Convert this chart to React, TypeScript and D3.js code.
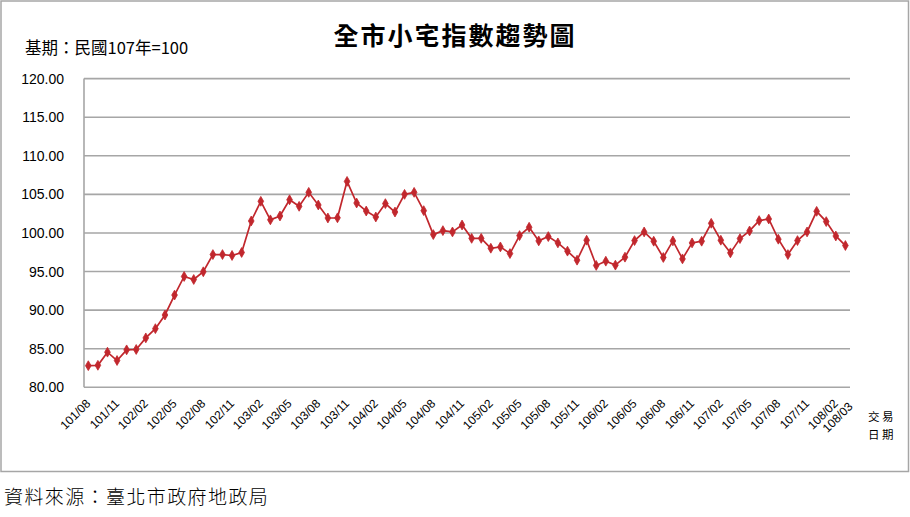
import React from "react";
import * as d3 from "d3";

const months: string[] = [
  "101/08","101/09","101/10","101/11","101/12",
  "102/01","102/02","102/03","102/04","102/05","102/06","102/07","102/08","102/09","102/10","102/11","102/12",
  "103/01","103/02","103/03","103/04","103/05","103/06","103/07","103/08","103/09","103/10","103/11","103/12",
  "104/01","104/02","104/03","104/04","104/05","104/06","104/07","104/08","104/09","104/10","104/11","104/12",
  "105/01","105/02","105/03","105/04","105/05","105/06","105/07","105/08","105/09","105/10","105/11","105/12",
  "106/01","106/02","106/03","106/04","106/05","106/06","106/07","106/08","106/09","106/10","106/11","106/12",
  "107/01","107/02","107/03","107/04","107/05","107/06","107/07","107/08","107/09","107/10","107/11","107/12",
  "108/01","108/02","108/03",
];

const indexValues: number[] = [
  82.8, 82.85, 84.55, 83.47, 84.85,
  84.9, 86.4, 87.6, 89.37, 91.95, 94.36, 93.97, 94.97, 97.2, 97.2, 97.08, 97.47,
  101.55, 104.1, 101.7, 102.2, 104.3, 103.45, 105.26, 103.62, 101.94, 101.96, 106.68, 103.88,
  102.84, 102.07, 103.8, 102.71, 105.0, 105.26, 102.89, 99.79, 100.3, 100.13, 101.03, 99.3,
  99.3, 98.02, 98.19, 97.33, 99.66, 100.74, 98.97, 99.53, 98.71, 97.64, 96.47, 99.06,
  95.79, 96.34, 95.83, 96.86, 99.01, 100.13, 98.93, 96.82, 98.97, 96.64, 98.71, 98.93,
  101.25, 99.06, 97.42, 99.27, 100.26, 101.6, 101.81, 99.19, 97.2, 99.01, 100.13, 102.8,
  101.47, 99.61, 98.37,
];

const xTickLabels: string[] = [
  "101/08","101/11","102/02","102/05","102/08","102/11","103/02","103/05","103/08","103/11",
  "104/02","104/05","104/08","104/11","105/02","105/05","105/08","105/11","106/02","106/05",
  "106/08","106/11","107/02","107/05","107/08","107/11","108/02","108/03",
];

const yTicks: number[] = [80, 85, 90, 95, 100, 105, 110, 115, 120];

const title = "全市小宅指數趨勢圖";
const baseNote = "基期：民國107年=100";
const axisTitle = ["交易", "日期"];
const source = "資料來源：臺北市政府地政局";

const W = 910;
const H = 517;
const plotLeft = 84;
const plotRight = 850;
const firstX = 88.3;
const lastX = 845.4;
const yTop = 78.6;
const yBottom = 387.3;

const LINE_COLOR = "#c1272d";
const GRID_COLOR = "#a6a6a6";
const CJK = "'Noto Sans CJK TC', 'Noto Sans CJK SC', sans-serif";
const NUM = "'Liberation Sans', Arial, sans-serif";

export default function App() {
  const x = d3.scalePoint<string>().domain(months).range([firstX, lastX]);
  const y = d3.scaleLinear().domain([80, 120]).range([yBottom, yTop]);

  const data = months.map((m, i) => ({ m, v: indexValues[i] }));
  const line = d3
    .line<{ m: string; v: number }>()
    .x((d) => x(d.m) as number)
    .y((d) => y(d.v));

  const diamond = d3.symbol().type(d3.symbolDiamond).size(28)() as string;

  return (
    <svg
      width={W}
      height={H}
      style={{ position: "absolute", left: 0, top: 0, background: "#fff" }}
    >
      <rect x={0} y={0} width={W} height={H} fill="#fff" />
      <rect x={1} y={1} width={907.5} height={470.5} fill="#fff" stroke={GRID_COLOR} strokeWidth={1.5} />

      <text
        x={455}
        y={45}
        textAnchor="middle"
        fontFamily={CJK}
        fontWeight={700}
        fontSize={25}
        letterSpacing={2}
        fill="#000"
      >
        {title}
      </text>
      <text x={25} y={54} fontFamily={CJK} fontSize={16.5} fill="#000">
        {baseNote}
      </text>

      {yTicks.map((t) => (
        <g key={t}>
          <line
            x1={plotLeft}
            x2={plotRight}
            y1={y(t)}
            y2={y(t)}
            stroke={GRID_COLOR}
            strokeWidth={1.6}
          />
          <text
            x={64}
            y={y(t) + 5}
            textAnchor="end"
            fontFamily={NUM}
            fontSize={14}
            fill="#000"
          >
            {t.toFixed(2)}
          </text>
        </g>
      ))}
      <line
        x1={plotLeft}
        x2={plotLeft}
        y1={yTop}
        y2={yBottom}
        stroke={GRID_COLOR}
        strokeWidth={1.6}
      />

      {xTickLabels.map((lab, i) => {
        const isLast = i === xTickLabels.length - 1;
        const px = (x(lab) as number) + 3 + (isLast ? 5 : 0);
        const py = yBottom + 17 + (isLast ? 3 : 0);
        return (
          <text
            key={lab}
            x={px}
            y={py}
            transform={`rotate(-45 ${px} ${py})`}
            textAnchor="end"
            fontFamily={NUM}
            fontSize={12}
            fill="#000"
          >
            {lab}
          </text>
        );
      })}

      {axisTitle.map((s, i) => (
        <text
          key={s}
          x={868}
          y={421 + i * 18}
          fontFamily={CJK}
          fontSize={11.5}
          letterSpacing={2.5}
          fill="#000"
        >
          {s}
        </text>
      ))}

      <path d={line(data) as string} fill="none" stroke={LINE_COLOR} strokeWidth={1.7} />
      {data.map((d) => (
        <path
          key={d.m}
          d={diamond}
          transform={`translate(${x(d.m)},${y(d.v)})`}
          fill={LINE_COLOR}
          stroke={LINE_COLOR}
          strokeWidth={0.8}
        />
      ))}

      <text x={4} y={504} fontFamily={CJK} fontWeight={300} fontSize={19} letterSpacing={1.4} fill="#000">
        {source}
      </text>
    </svg>
  );
}
